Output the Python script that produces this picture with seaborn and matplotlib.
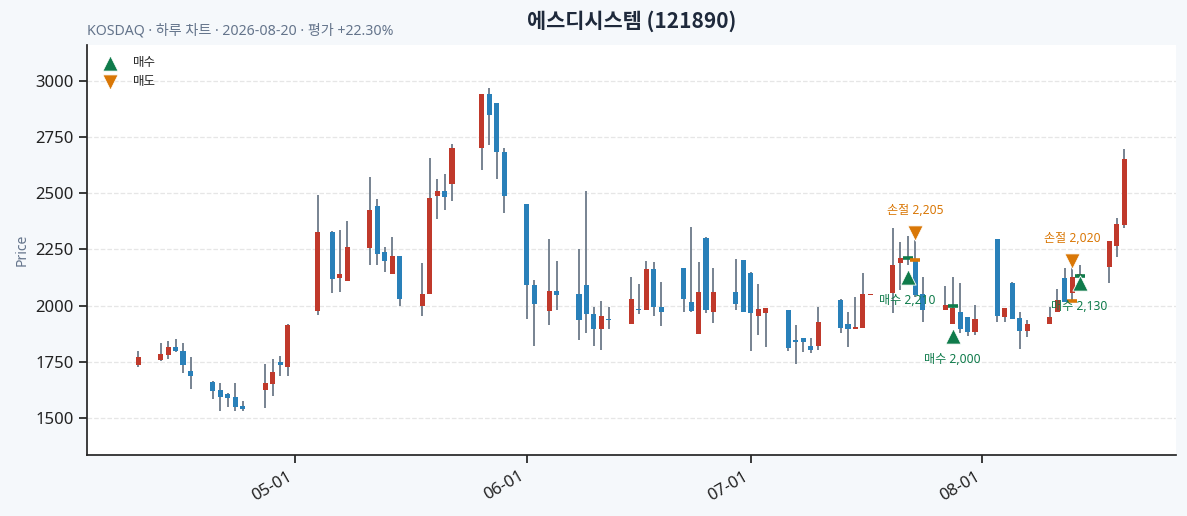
import numpy as np
import pandas as pd
import matplotlib
matplotlib.use("Agg")
import matplotlib.pyplot as plt
import matplotlib.dates as mdates
import seaborn as sns

# ------------------------------------------
# DATA
# ------------------------------------------
dates = [
    "2026-04-10", "2026-04-13", "2026-04-14", "2026-04-15", "2026-04-16", "2026-04-17",
    "2026-04-20", "2026-04-21", "2026-04-22", "2026-04-23", "2026-04-24",
    "2026-04-27", "2026-04-28", "2026-04-29", "2026-04-30",
    "2026-05-04", "2026-05-06", "2026-05-07", "2026-05-08",
    "2026-05-11", "2026-05-12", "2026-05-13", "2026-05-14", "2026-05-15",
    "2026-05-18", "2026-05-19", "2026-05-20", "2026-05-21", "2026-05-22",
    "2026-05-26", "2026-05-27", "2026-05-28", "2026-05-29",
    "2026-06-01", "2026-06-02", "2026-06-04", "2026-06-05",
    "2026-06-08", "2026-06-09", "2026-06-10", "2026-06-11", "2026-06-12",
    "2026-06-15", "2026-06-16", "2026-06-17", "2026-06-18", "2026-06-19",
    "2026-06-22", "2026-06-23", "2026-06-24", "2026-06-25", "2026-06-26",
    "2026-06-29", "2026-06-30", "2026-07-01", "2026-07-02", "2026-07-03",
    "2026-07-06", "2026-07-07", "2026-07-08", "2026-07-09", "2026-07-10",
    "2026-07-13", "2026-07-14", "2026-07-15", "2026-07-16", "2026-07-17",
    "2026-07-20", "2026-07-21", "2026-07-22", "2026-07-23", "2026-07-24",
    "2026-07-27", "2026-07-28", "2026-07-29", "2026-07-30", "2026-07-31",
    "2026-08-03", "2026-08-04", "2026-08-05", "2026-08-06", "2026-08-07",
    "2026-08-10", "2026-08-11", "2026-08-12", "2026-08-13", "2026-08-14",
    "2026-08-18", "2026-08-19", "2026-08-20",
]
opens = [
    1737, 1758, 1782, 1816, 1798, 1709,
    1660, 1625, 1607, 1592, 1553,
    1626, 1653, 1749, 1728,
    1978, 2326, 2124, 2111,
    2258, 2443, 2239, 2142, 2221,
    2000, 2051, 2489, 2509, 2540,
    2700, 2942, 2902, 2682,
    2452, 2090, 1978, 2064,
    2050, 2090, 1962, 1895, 1941,
    1917, 1985, 1979, 2162, 1993,
    2166, 2015, 1872, 2300, 1970,
    2059, 2202, 2144, 1953, 1966,
    1981, 1846, 1856, 1820, 1820,
    2025, 1917, 1895, 1899, 2048,
    2055, 2188, 2206, 2203, 2051,
    1981, 1918, 1970, 1951, 1884,
    2297, 1951, 2099, 1944, 1889,
    1917, 1973, 2122, 2058, 2130,
    2173, 2267, 2359,
]
highs = [
    1800, 1832, 1841, 1850, 1832, 1773,
    1663, 1654, 1610, 1654, 1574,
    1740, 1761, 1775, 1918,
    2491, 2331, 2335, 2375,
    2571, 2475, 2260, 2304, 2221,
    2191, 2656, 2562, 2587, 2717,
    2942, 2967, 2902, 2700,
    2452, 2114, 2296, 2197,
    2253, 2512, 1995, 2022, 1995,
    2129, 2095, 2197, 2193, 2104,
    2166, 2351, 2193, 2304, 2166,
    2206, 2202, 2148, 2095, 1991,
    1981, 1914, 1856, 1857, 1993,
    2030, 1970, 2037, 2144, 2053,
    2344, 2282, 2310, 2292, 2126,
    2086, 2129, 2101, 1951, 2003,
    2297, 1988, 2104, 1973, 1936,
    1993, 2074, 2166, 2181, 2181,
    2288, 2389, 2696,
]
lows = [
    1726, 1755, 1763, 1795, 1699, 1628,
    1583, 1530, 1550, 1532, 1530,
    1543, 1597, 1686, 1686,
    1957, 2055, 2061, 2111,
    2180, 2180, 2148, 2142, 2000,
    1953, 2051, 2384, 2426, 2466,
    2604, 2714, 2564, 2411,
    1941, 1820, 1914, 1981,
    1847, 1877, 1820, 1801, 1895,
    1917, 1962, 1979, 1953, 1909,
    1972, 1970, 1872, 1966, 1921,
    1979, 1970, 1797, 1868, 1815,
    1797, 1739, 1792, 1788, 1801,
    1877, 1815, 1895, 1899, 2048,
    1966, 2070, 2180, 2040, 1927,
    1981, 1918, 1877, 1866, 1869,
    1929, 1926, 1941, 1807, 1862,
    1917, 1973, 2018, 2020, 2100,
    2099, 2218, 2347,
]
closes = [
    1770, 1783, 1815, 1797, 1734, 1688,
    1621, 1595, 1590, 1550, 1541,
    1654, 1705, 1737, 1914,
    2326, 2120, 2140, 2260,
    2426, 2228, 2200, 2221, 2030,
    2051, 2478, 2509, 2485, 2700,
    2942, 2847, 2682, 2489,
    2090, 2006, 2065, 2049,
    1935, 1962, 1895, 1953, 1935,
    2030, 1979, 2162, 1993, 1970,
    2028, 1975, 2059, 1979, 2059,
    2006, 1970, 1966, 1984, 1991,
    1810, 1837, 1837, 1801, 1926,
    1899, 1895, 1904, 2051, 2053,
    2180, 2211, 2216, 2047, 1981,
    2003, 1988, 1896, 1884, 1941,
    1955, 1988, 1941, 1889, 1917,
    1948, 2025, 2018, 2129, 2140,
    2288, 2362, 2651,
]

# trades
buy_dates = ["2026-07-22", "2026-07-28", "2026-08-14"]
buy_prices = [2210, 2000, 2130]
buy_marker_y = [2127, 1865, 2101]
sell_dates = ["2026-07-23", "2026-08-13"]
sell_prices = [2205, 2020]
sell_marker_y = [2325, 2199]

# ------------------------------------------
# STYLE
# ------------------------------------------
sns.set_theme(style="ticks")
plt.rcParams["font.family"] = ["Noto Sans", "Noto Sans CJK KR", "DejaVu Sans"]
plt.rcParams["axes.unicode_minus"] = False

UP = "#c0392b"
DOWN = "#2980b9"
WICK = "#6c7a89"
GREEN = "#0f7b4b"
ORANGE = "#d97706"

fig, ax = plt.subplots(figsize=(11.87, 5.16), dpi=100)
fig.patch.set_facecolor("#f5f8fb")
ax.set_facecolor("white")
fig.subplots_adjust(left=0.073, right=0.9907, bottom=0.118, top=0.913)

x = mdates.date2num(pd.to_datetime(dates))
o = np.array(opens)
h = np.array(highs)
l = np.array(lows)
c = np.array(closes)
colors = [UP if cc >= oo else DOWN for oo, cc in zip(o, c)]

# ------------------------------------------
# CANDLES
# ------------------------------------------
ax.vlines(x, l, h, color=WICK, lw=1.3, zorder=2)
ax.bar(x, np.abs(c - o), bottom=np.minimum(o, c), width=0.68,
       color=colors, zorder=3, linewidth=0)

# ------------------------------------------
# TRADES
# ------------------------------------------
bx = mdates.date2num(pd.to_datetime(buy_dates))
sx = mdates.date2num(pd.to_datetime(sell_dates))

ax.plot(bx, buy_prices, ls="none", marker="_", ms=7, mew=2.6, color=GREEN, zorder=4)
ax.plot(sx, sell_prices, ls="none", marker="_", ms=7, mew=2.6, color=ORANGE, zorder=4)

sns.scatterplot(x=bx, y=buy_marker_y, marker="^", s=120, color=GREEN,
                edgecolor="white", linewidth=0.6, label="매수", ax=ax, zorder=5)
sns.scatterplot(x=sx, y=sell_marker_y, marker="v", s=120, color=ORANGE,
                edgecolor="white", linewidth=0.6, label="매도", ax=ax, zorder=5)

for xi, yi, p in zip(bx, buy_marker_y, buy_prices):
    ax.annotate(f"매수 {p:,}", (xi, yi), xytext=(0, -17), textcoords="offset points",
                ha="center", va="center", fontsize=8.7, color=GREEN, zorder=6)
for xi, yi, p in zip(sx, sell_marker_y, sell_prices):
    ax.annotate(f"손절 {p:,}", (xi, yi), xytext=(0, 16), textcoords="offset points",
                ha="center", va="center", fontsize=8.7, color=ORANGE, zorder=6)

# ------------------------------------------
# AXES
# ------------------------------------------
ax.set_xlim(x[0] - 6.9, x[-1] + 6.9)
ax.set_ylim(1335, 3160)
ax.xaxis.set_major_locator(mdates.MonthLocator())
ax.xaxis.set_major_formatter(mdates.DateFormatter("%m-%d"))
plt.setp(ax.get_xticklabels(), rotation=30, ha="right")
ax.tick_params(labelsize=12, colors="#222222")
ax.grid(axis="y", ls="--", color="#e6e6e6", lw=0.9)
ax.set_axisbelow(True)
sns.despine(ax=ax)
ax.set_ylabel("Price", fontsize=10, color="#64748b")
ax.set_xlabel("")

ax.legend(loc="upper left", frameon=False, fontsize=9, handletextpad=0.8)

ax.set_title("에스디시스템 (121890)", fontsize=15, fontweight="bold",
             color="#1e293b", pad=12, family=["Noto Sans CJK KR", "DejaVu Sans"])
ax.text(0, 1.015, "KOSDAQ · 하루 차트 · 2026-08-20 · 평가 +22.30%",
        transform=ax.transAxes, fontsize=10.2, color="#64748b", va="bottom", ha="left")

plt.savefig("out.png", dpi=100, facecolor=fig.get_facecolor())
